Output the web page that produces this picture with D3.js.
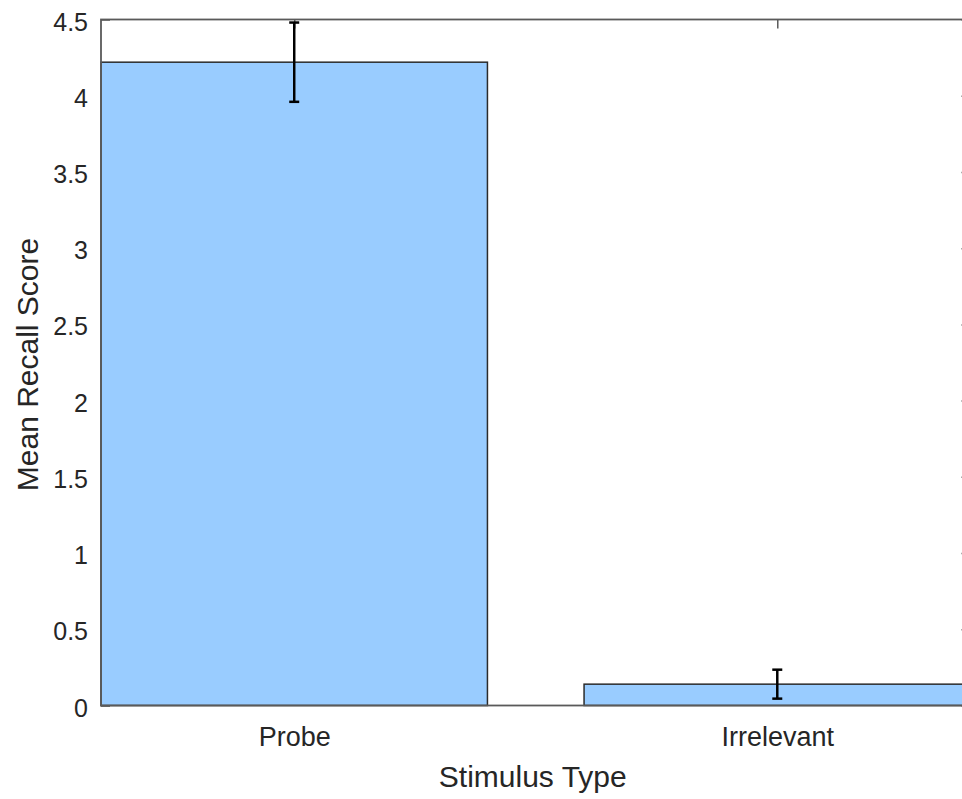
<!DOCTYPE html>
<html>
<head>
<meta charset="utf-8">
<script src="https://cdn.jsdelivr.net/npm/d3@7"></script>
<style>
  html, body { margin: 0; padding: 0; background: #fff; overflow: hidden; }
  text { font-family: "Liberation Sans", Arial, sans-serif; fill: #262626; }
</style>
</head>
<body>
<svg id="chart"></svg>
<script>
// data
const categories = ['Probe', 'Irrelevant'];
const means = [4.22, 0.14];
const errors = [0.26, 0.095];
const yTicks = [0, 0.5, 1, 1.5, 2, 2.5, 3, 3.5, 4, 4.5];
const yTickLabels = ['0', '0.5', '1', '1.5', '2', '2.5', '3', '3.5', '4', '4.5'];
const xLabel = 'Stimulus Type';
const yLabel = 'Mean Recall Score';

const width = 962;
const height = 799;
const margin = { left: 101, top: 19.5, right: 970.5, bottom: 705.5 };

const svg = d3.select('#chart')
  .attr('width', width)
  .attr('height', height);

// categories sit at 1, 2 ; axis spans 0.6 .. 2.4 (the right edge falls off the picture)
const x = d3.scaleLinear().domain([0.6, 2.4]).range([margin.left, margin.right]);
const y = d3.scaleLinear().domain([0, 4.5]).range([margin.bottom, margin.top]);

const barWidth = x(1.4) - x(0.6);
const tickLen = 9;
const axisColor = '#5a5a5a';

// axes (ticks point inward, MATLAB style)
const leftAxis = svg.append('g')
  .attr('transform', `translate(${margin.left},0)`)
  .call(d3.axisLeft(y)
    .tickValues(yTicks)
    .tickFormat((d, i) => yTickLabels[i])
    .tickSizeInner(-tickLen)
    .tickSizeOuter(0)
    .tickPadding(13));

const rightAxis = svg.append('g')
  .attr('transform', `translate(${margin.right},0)`)
  .call(d3.axisRight(y)
    .tickValues(yTicks)
    .tickFormat('')
    .tickSizeInner(-tickLen)
    .tickSizeOuter(0));

const bottomAxis = svg.append('g')
  .attr('transform', `translate(0,${margin.bottom})`)
  .call(d3.axisBottom(x)
    .tickValues([1, 2])
    .tickFormat(d => categories[d - 1])
    .tickSizeInner(-tickLen)
    .tickSizeOuter(0)
    .tickPadding(21));

const topAxis = svg.append('g')
  .attr('transform', `translate(0,${margin.top})`)
  .call(d3.axisTop(x)
    .tickValues([1, 2])
    .tickFormat('')
    .tickSizeInner(-tickLen)
    .tickSizeOuter(0));

[leftAxis, rightAxis, bottomAxis, topAxis].forEach(g => {
  g.select('.domain').remove();
  g.selectAll('.tick line').attr('stroke', axisColor).attr('stroke-width', 1.5);
  g.selectAll('.tick text').attr('fill', '#262626');
});
leftAxis.selectAll('.tick text').style('font-size', '25px').attr('dy', '0.42em');
bottomAxis.selectAll('.tick text').style('font-size', '27px');

// bars
svg.append('g')
  .selectAll('rect')
  .data(means)
  .enter().append('rect')
  .attr('x', (d, i) => x(i + 1) - barWidth / 2)
  .attr('y', d => y(d))
  .attr('width', barWidth)
  .attr('height', d => y(0) - y(d))
  .attr('fill', '#99ccff')
  .attr('stroke', '#2b2b2b')
  .attr('stroke-width', 1.5);

// error bars
const capHalf = 5;
const err = svg.append('g')
  .selectAll('g')
  .data(means)
  .enter().append('g')
  .attr('stroke', '#000')
  .attr('stroke-width', 2.5);

err.append('line')
  .attr('x1', (d, i) => x(i + 1))
  .attr('x2', (d, i) => x(i + 1))
  .attr('y1', (d, i) => y(d + errors[i]))
  .attr('y2', (d, i) => y(d - errors[i]));

err.append('line')
  .attr('x1', (d, i) => x(i + 1) - capHalf)
  .attr('x2', (d, i) => x(i + 1) + capHalf)
  .attr('y1', (d, i) => y(d + errors[i]))
  .attr('y2', (d, i) => y(d + errors[i]));

err.append('line')
  .attr('x1', (d, i) => x(i + 1) - capHalf)
  .attr('x2', (d, i) => x(i + 1) + capHalf)
  .attr('y1', (d, i) => y(d - errors[i]))
  .attr('y2', (d, i) => y(d - errors[i]));

// axes box
svg.append('rect')
  .attr('x', margin.left)
  .attr('y', margin.top)
  .attr('width', margin.right - margin.left)
  .attr('height', margin.bottom - margin.top)
  .attr('fill', 'none')
  .attr('stroke', axisColor)
  .attr('stroke-width', 1.8);

// axis titles
svg.append('text')
  .attr('x', (margin.left + margin.right) / 2 - 3)
  .attr('y', 787)
  .attr('text-anchor', 'middle')
  .style('font-size', '30px')
  .text(xLabel);

svg.append('text')
  .attr('transform', `translate(38,${(margin.top + margin.bottom) / 2 + 2}) rotate(-90)`)
  .attr('text-anchor', 'middle')
  .style('font-size', '30px')
  .text(yLabel);
</script>
</body>
</html>
